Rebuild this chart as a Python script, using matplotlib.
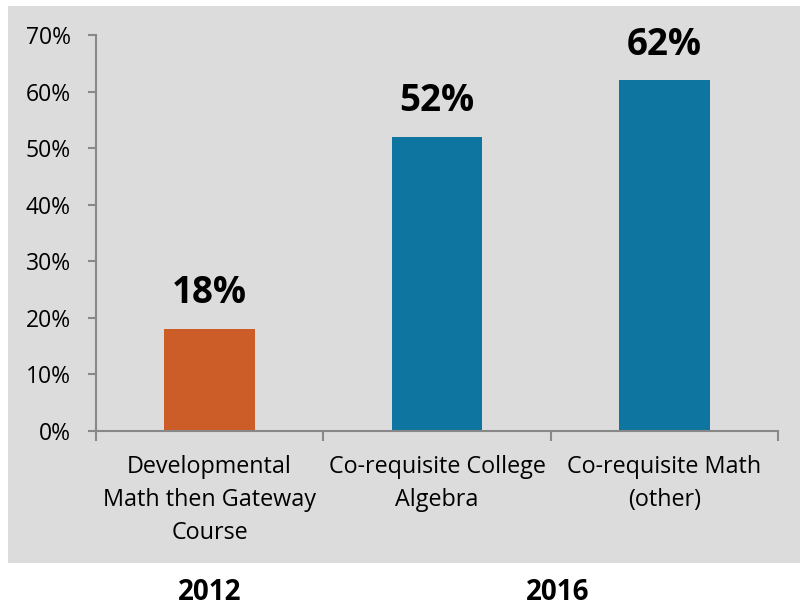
import matplotlib.pyplot as plt
from matplotlib.patches import Rectangle
from matplotlib.ticker import PercentFormatter

categories = ["Developmental\nMath then Gateway\nCourse",
              "Co-requisite College\nAlgebra",
              "Co-requisite Math\n(other)"]
values = [18, 52, 62]
colors = ["#cc5c28", "#0e75a0", "#0e75a0"]
years = ["2012", "2016"]
yticks = [0, 10, 20, 30, 40, 50, 60, 70]

plt.rcParams['font.family'] = ['Open Sans', 'DejaVu Sans']

fig = plt.figure(figsize=(8, 6.07), dpi=100)
# grey panel behind the chart
fig.patches.append(Rectangle((0.01, 0.0725), 0.99, 0.9175, transform=fig.transFigure,
                             facecolor="#dcdcdc", edgecolor="none", zorder=-10))

ax = fig.add_axes([0.12, 0.29, 0.8525, 0.6523])
ax.patch.set_alpha(0)

x = range(len(values))
bars = ax.bar(x, values, width=0.4, color=colors)
for b, v in zip(bars, values):
    ax.annotate(f"{v}%", (b.get_x() + b.get_width() / 2, v), xytext=(0, 12),
                textcoords="offset points", ha="center", va="bottom",
                fontsize=26.5, fontweight="bold", color="black")

ax.set_xlim(-0.5, 2.5)
ax.set_ylim(0, 70)
ax.set_yticks(yticks)
ax.yaxis.set_major_formatter(PercentFormatter(decimals=0))
ax.set_xticks([-0.5, 0.5, 1.5, 2.5])
ax.set_xticklabels([])
ax.set_xticks(list(x), minor=True)
ax.set_xticklabels(categories, minor=True, fontsize=16.8, linespacing=1.5)
ax.tick_params(axis="x", which="minor", length=0, pad=17)
ax.tick_params(axis="x", which="major", length=7, color="#888888", width=1.5)
ax.tick_params(axis="y", length=6, color="#888888", width=1.5, labelsize=16.5, pad=12)

for s in ["top", "right"]:
    ax.spines[s].set_visible(False)
for s in ["left", "bottom"]:
    ax.spines[s].set_color("#888888")
    ax.spines[s].set_linewidth(1.5)

fig.text(210 / 800, 1 - 592 / 607, years[0], ha="center", va="center",
         fontsize=20, fontweight="bold")
fig.text(558 / 800, 1 - 592 / 607, years[1], ha="center", va="center",
         fontsize=20, fontweight="bold")

fig.savefig("out.png", dpi=100)
